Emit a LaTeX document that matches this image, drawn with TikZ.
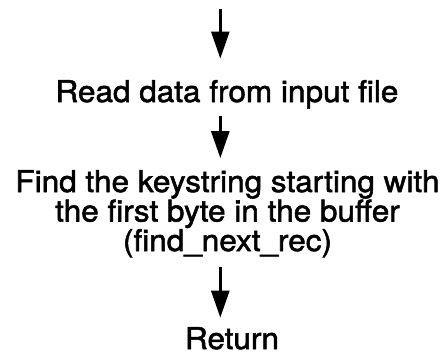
\documentclass[tikz,border=0pt]{standalone}
\usepackage{fontspec}
\setmainfont{TeX Gyre Heros}[FakeStretch=1.05, FakeBold=1.8]
\usetikzlibrary{arrows.meta}

\tikzset{
  lbl/.style={inner sep=0pt, outer sep=0pt, font=\fontsize{30pt}{27.5pt}\selectfont},
  flow/.style={line width=2.6pt, -{Triangle[length=27pt,width=18pt]}},
}

\begin{document}
\begin{tikzpicture}[x=1pt,y=1pt]
  \fill[white] (0,0) rectangle (445,-356);
  \useasboundingbox (0,0) rectangle (445,-356);

  % column of the flow arrows
  \coordinate (s) at (220.3,-9);

  \node[lbl, anchor=base] (read) at (227,-102) {Read data from input file};
  % the base anchor of a multi-line node sits on its last line
  \node[lbl, anchor=base, align=center] (find) at (227.5,-251)
    {Find the keystring starting with\\the first byte in the buffer\\(find\_next\_rec)};
  \node[lbl, anchor=base] (ret) at (232,-349) {Return};

  \draw[flow, shorten >=21.5pt] (s) -- (s |- read.north);
  \draw[flow, shorten <=7pt, shorten >=12pt] (s |- read.south) -- (s |- find.north);
  \draw[flow, shorten <=10pt, shorten >=9.5pt] (s |- find.south) -- (s |- ret.north);
\end{tikzpicture}
\end{document}
